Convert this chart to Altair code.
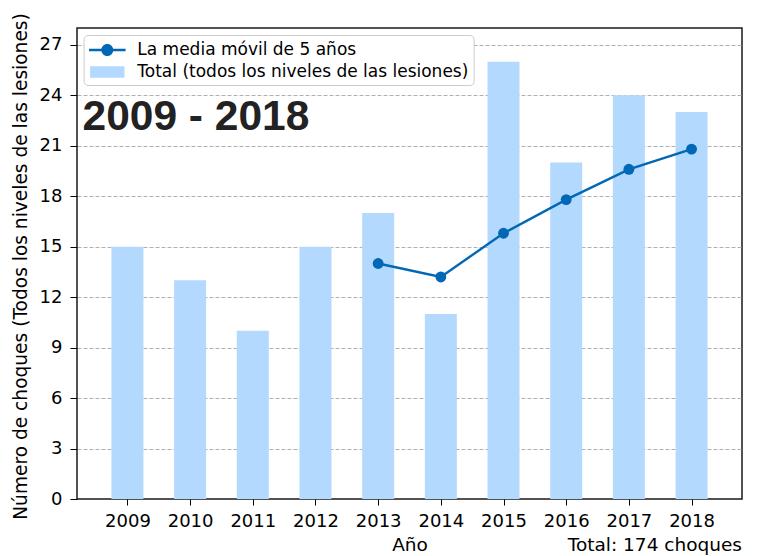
import altair as alt
import pandas as pd

years = [2009, 2010, 2011, 2012, 2013, 2014, 2015, 2016, 2017, 2018]
totals = [15, 13, 10, 15, 17, 11, 26, 20, 24, 23]
ma_years = [2013, 2014, 2015, 2016, 2017, 2018]
ma_values = [14.0, 13.2, 15.8, 17.8, 19.6, 20.8]
legend_labels = ["La media móvil de 5 años", "Total (todos los niveles de las lesiones)"]
big_title = ["2009 - 2018"]
footer = ["Total: 174 choques"]

LINE_COLOR = "#0068b5"
BAR_COLOR = "#b3d9ff"

df_bar = pd.DataFrame({"year": years, "total": totals})
df_ma = pd.DataFrame({"year": ma_years, "ma": ma_values})
df_leg = pd.DataFrame({"label": legend_labels})
df_title = pd.DataFrame({"t": big_title})
df_foot = pd.DataFrame({"t": footer})

W, H = 665, 471

xscale = alt.Scale(domain=[2008.275, 2018.725], nice=False, zero=False)
yscale = alt.Scale(domain=[0, 28], nice=False)

xaxis = alt.Axis(
    values=[2009 + 0.5 * i for i in range(20)],
    labelExpr="datum.value % 1 == 0 ? '' + datum.value : ''",
    grid=False, domain=False, ticks=True, tickSize=6, tickColor="black",
    labelFont="DejaVu Sans", labelFontSize=18, labelColor="black",
    labelBaseline="alphabetic", labelPadding=21, labelAngle=0,
    title="Año", titleFont="DejaVu Sans", titleFontSize=18.5,
    titleFontWeight="normal", titleColor="black",
    titleBaseline="alphabetic", titleY=51, titleX=W / 2,
)
yaxis = alt.Axis(
    values=list(range(0, 28, 3)),
    grid=True, gridColor="#b0b0b0", gridDash=[4, 2], gridWidth=1,
    gridOpacity=alt.ExprRef(expr="datum.value === 0 ? 0 : 1"),
    domain=False, ticks=True, tickSize=7, tickColor="black",
    labelFont="DejaVu Sans", labelFontSize=18, labelColor="black",
    labelPadding=8,
    title="Número de choques (Todos los niveles de las lesiones)",
    titleFont="DejaVu Sans", titleFontSize=18.6, titleFontWeight="normal",
    titleColor="black", titleAngle=270, titleBaseline="alphabetic",
    titleAlign="center", titleX=-50.3, titleY=238,
)

bars = alt.Chart(df_bar).mark_bar(size=32, color=BAR_COLOR).encode(
    x=alt.X("year:Q", scale=xscale, axis=xaxis),
    y=alt.Y("total:Q", scale=yscale, axis=yaxis),
)

line = alt.Chart(df_ma).mark_line(color=LINE_COLOR, strokeWidth=2.4).encode(
    x=alt.X("year:Q", scale=xscale),
    y=alt.Y("ma:Q", scale=yscale),
)
points = alt.Chart(df_ma).mark_point(filled=True, color=LINE_COLOR, size=118, opacity=1).encode(
    x=alt.X("year:Q", scale=xscale),
    y=alt.Y("ma:Q", scale=yscale),
)

line_path = ("M-1.83,-0.12H1.83V0.12H-1.83Z "
             "M0.6,0A0.6,0.6,0,1,1,-0.6,0A0.6,0.6,0,1,1,0.6,0Z")
rect_path = "M-1.72,-0.58H1.72V0.58H-1.72Z"

leg = alt.Legend(
    title=None, orient="none", legendX=6.6, legendY=7,
    strokeColor="#cccccc", fillColor="white", cornerRadius=4, padding=5,
    symbolSize=400, symbolOffset=8.7, labelOffset=20, rowPadding=4,
    labelFont="DejaVu Sans", labelFontSize=17, labelColor="black",
    labelLimit=600, symbolOpacity=1, symbolStrokeWidth=0,
)
legend_layer = alt.Chart(df_leg).mark_point(filled=True, opacity=0).encode(
    color=alt.Color("label:N", scale=alt.Scale(domain=legend_labels, range=[LINE_COLOR, BAR_COLOR]), legend=leg),
    shape=alt.Shape("label:N", scale=alt.Scale(domain=legend_labels, range=[line_path, rect_path]), legend=leg),
)

title_text = alt.Chart(df_title).mark_text(
    font="Liberation Sans", fontSize=42.5, fontWeight="bold", color="#222222",
    align="left", baseline="alphabetic",
).encode(text="t:N", x=alt.value(5.5), y=alt.value(102))

foot_text = alt.Chart(df_foot).mark_text(
    font="DejaVu Sans", fontSize=18.5, color="black",
    align="right", baseline="alphabetic",
).encode(text="t:N", x=alt.value(W), y=alt.value(H + 52))

chart = alt.layer(bars, line, points, legend_layer, title_text, foot_text).properties(
    width=W, height=H,
    autosize=alt.AutoSizeParams(type="none"),
    padding={"left": 69, "top": 20, "right": 4, "bottom": 57},
).configure_view(stroke="#1a1a1a", strokeWidth=1.5)

chart.save("out.html", embed_options={"renderer": "svg", "actions": False})
